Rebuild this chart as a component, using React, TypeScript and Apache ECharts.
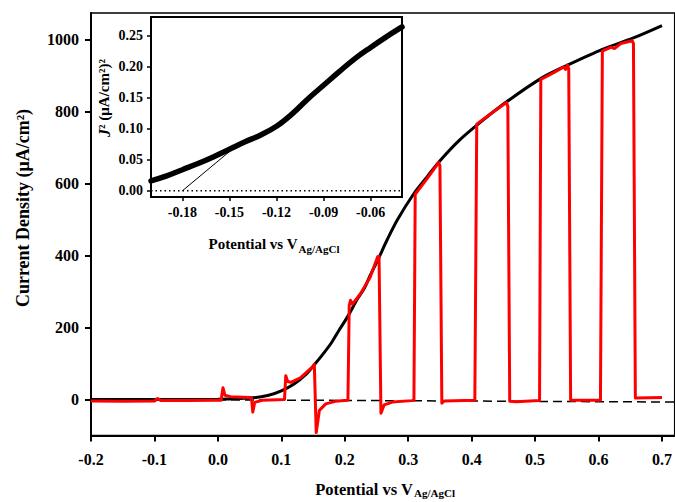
import React, { useEffect, useRef } from "react";
import * as echarts from "echarts";

// ---- main plot: tick labels ----
const mainXTicks = [-0.2, -0.1, 0.0, 0.1, 0.2, 0.3, 0.4, 0.5, 0.6, 0.7];
const mainYTicks = [0, 200, 400, 600, 800, 1000];

// ---- main plot: continuous illuminated LSV (black) ----
const lsvPotential = [-0.2, -0.1, 0.0, 0.05, 0.08, 0.1, 0.12, 0.14, 0.153, 0.165, 0.179, 0.19, 0.205, 0.22, 0.231, 0.24, 0.252, 0.267, 0.283, 0.309, 0.33, 0.348, 0.38, 0.413, 0.455, 0.512, 0.551, 0.606, 0.654, 0.7];
const lsvCurrent = [0, 0, 1, 4, 12, 24, 43, 72, 99, 125, 158, 190, 232, 280, 310, 345, 388, 445, 500, 573, 620, 660, 720, 770, 828, 896, 930, 974, 1005, 1040];

// ---- main plot: chopped-light LSV (red) ----
const chopPotential = [-0.2, -0.15, -0.1, -0.095, -0.09, -0.05, 0.0, 0.005, 0.008, 0.011, 0.02, 0.05, 0.053, 0.055, 0.058, 0.07, 0.105, 0.107, 0.11, 0.115, 0.13, 0.15, 0.152, 0.155, 0.16, 0.17, 0.185, 0.205, 0.207, 0.209, 0.212, 0.225, 0.24, 0.252, 0.254, 0.257, 0.262, 0.275, 0.305, 0.309, 0.311, 0.33, 0.348, 0.35, 0.353, 0.357, 0.405, 0.408, 0.43, 0.455, 0.457, 0.46, 0.47, 0.507, 0.509, 0.53, 0.545, 0.548, 0.551, 0.553, 0.556, 0.603, 0.606, 0.62, 0.625, 0.635, 0.653, 0.655, 0.658, 0.7];
const chopCurrent = [-4, -5, -4, 3, -3, -3, -2, -2, 33, 12, 8, 6, 4, -35, -8, -2, 0, 66, 50, 48, 60, 92, 98, -92, -30, -12, -5, -2, 262, 276, 265, 295, 340, 398, 398, -38, -15, -7, -3, -2, 571, 615, 659, 650, -10, -4, -2, 766, 795, 826, 815, -5, -6, -3, 890, 910, 925, 918, 930, 920, -2, -2, 969, 980, 976, 990, 998, 990, 4, 6];

// ---- main plot: dark current (dashed) ----
const darkPotential = [-0.2, 0.72];
const darkCurrent = [1, -7];

// ---- inset: tick labels ----
const insetXTicks = [-0.18, -0.15, -0.12, -0.09, -0.06];
const insetYTicks = [0.0, 0.05, 0.1, 0.15, 0.2, 0.25];

// ---- inset: J^2 vs potential ----
const insetPotential = [-0.2, -0.19, -0.18, -0.17, -0.16, -0.15, -0.14, -0.13, -0.12, -0.11, -0.1, -0.09, -0.08, -0.07, -0.06, -0.05, -0.04];
const insetJ2 = [0.016, 0.024, 0.034, 0.044, 0.055, 0.067, 0.079, 0.09, 0.104, 0.124, 0.148, 0.17, 0.192, 0.213, 0.231, 0.248, 0.264];

// ---- inset: tangent (flat-band extrapolation) ----
const tangentPotential = [-0.18, -0.1455];
const tangentJ2 = [0, 0.0726];

// ---- inset: zero line ----
const zeroPotential = [-0.2, -0.04];
const zeroJ2 = [0, 0];

const zip = (xs: number[], ys: number[]) => xs.map((x, i) => [x, ys[i]]);

const FONT = "'Liberation Serif', 'Times New Roman', serif";

export default function App() {
  const ref = useRef<HTMLDivElement>(null);
  useEffect(() => {
    const chart = echarts.init(ref.current!, null, { renderer: "svg" });
    const labelStyle = { color: "#000", fontFamily: FONT, fontWeight: "bold" as const };
    chart.setOption({
      animation: false,
      backgroundColor: "#fff",
      grid: [
        { left: 91, top: 13, right: -5, bottom: 66.5, show: true, borderColor: "#000", borderWidth: 1.5, backgroundColor: "transparent" },
        { left: 151, top: 17, width: 251, height: 180, show: true, borderColor: "#000", borderWidth: 2, backgroundColor: "#fff", z: 5 },
      ],
      xAxis: [
        {
          type: "value", gridIndex: 0, min: -0.2, max: 0.72,
          axisLine: { show: true, onZero: false, lineStyle: { color: "#000", width: 2 } },
          axisTick: { show: true, customValues: mainXTicks, length: 6, lineStyle: { color: "#000", width: 2 } },
          axisLabel: { customValues: mainXTicks, formatter: (v: number) => v.toFixed(1), fontSize: 16, margin: 16, ...labelStyle },
          splitLine: { show: false },
        },
        {
          type: "value", gridIndex: 1, min: -0.2, max: -0.04,
          axisLine: { show: true, onZero: false, lineStyle: { color: "#000", width: 2 } },
          axisTick: { show: true, customValues: insetXTicks, length: 4, lineStyle: { color: "#000", width: 1.5 } },
          axisLabel: { customValues: insetXTicks, formatter: (v: number) => v.toFixed(2), fontSize: 14, margin: 8, ...labelStyle },
          splitLine: { show: false },
        },
      ],
      yAxis: [
        {
          type: "value", gridIndex: 0, min: -100, max: 1075,
          axisLine: { show: true, onZero: false, lineStyle: { color: "#000", width: 2 } },
          axisTick: { show: true, customValues: mainYTicks, length: 6, lineStyle: { color: "#000", width: 2 } },
          axisLabel: { customValues: mainYTicks, formatter: (v: number) => String(v), fontSize: 16, margin: 12, ...labelStyle },
          splitLine: { show: false },
        },
        {
          type: "value", gridIndex: 1, min: -0.01, max: 0.28,
          axisLine: { show: true, onZero: false, lineStyle: { color: "#000", width: 2 } },
          axisTick: { show: true, customValues: insetYTicks, length: 4, lineStyle: { color: "#000", width: 1.5 } },
          axisLabel: { customValues: insetYTicks, formatter: (v: number) => v.toFixed(2), fontSize: 14, margin: 8, ...labelStyle },
          splitLine: { show: false },
        },
      ],
      series: [
        {
          type: "line", xAxisIndex: 0, yAxisIndex: 0, showSymbol: false, silent: true,
          data: zip(darkPotential, darkCurrent),
          lineStyle: { color: "#000", width: 1.5, type: [9, 5] },
        },
        {
          type: "line", xAxisIndex: 0, yAxisIndex: 0, showSymbol: false, silent: true, smooth: 0.3,
          data: zip(lsvPotential, lsvCurrent),
          lineStyle: { color: "#000", width: 3 },
        },
        {
          type: "line", xAxisIndex: 0, yAxisIndex: 0, showSymbol: false, silent: true,
          data: zip(chopPotential, chopCurrent),
          lineStyle: { color: "#ff0000", width: 3, join: "round" },
        },
        {
          type: "line", xAxisIndex: 1, yAxisIndex: 1, showSymbol: false, silent: true, z: 6,
          data: zip(zeroPotential, zeroJ2),
          lineStyle: { color: "#000", width: 1.5, type: [1.5, 3] },
        },
        {
          type: "line", xAxisIndex: 1, yAxisIndex: 1, showSymbol: false, silent: true, z: 6,
          data: zip(tangentPotential, tangentJ2),
          lineStyle: { color: "#000", width: 1 },
        },
        {
          type: "line", xAxisIndex: 1, yAxisIndex: 1, showSymbol: false, silent: true, smooth: 0.4, z: 6,
          data: zip(insetPotential, insetJ2),
          lineStyle: { color: "#000", width: 5.5, cap: "round" },
        },
      ],
      graphic: [
        {
          type: "text", x: 385, y: 489, z: 10,
          style: {
            text: "{a|Potential vs V}{b|Ag/AgCl}", align: "center", verticalAlign: "middle",
            rich: {
              a: { fontSize: 16.5, fontFamily: FONT, fontWeight: "bold", fill: "#000" },
              b: { fontSize: 11, fontFamily: FONT, fontWeight: "bold", fill: "#000", padding: [8, 0, 0, 1] },
            },
          },
        },
        {
          type: "text", x: 23, y: 208, rotation: Math.PI / 2, z: 10,
          style: { text: "Current Density (μA/cm²)", align: "center", verticalAlign: "middle", fontSize: 18, fontFamily: FONT, fontWeight: "bold", fill: "#000" },
        },
        {
          type: "text", x: 274, y: 244, z: 10,
          style: {
            text: "{a|Potential vs V}{b|Ag/AgCl}", align: "center", verticalAlign: "middle",
            rich: {
              a: { fontSize: 15, fontFamily: FONT, fontWeight: "bold", fill: "#000" },
              b: { fontSize: 11, fontFamily: FONT, fontWeight: "bold", fill: "#000", padding: [9, 0, 0, 1] },
            },
          },
        },
        {
          type: "text", x: 104, y: 98, rotation: Math.PI / 2, z: 10,
          style: {
            text: "{i|J}{n|² (μA/cm²)²}", align: "center", verticalAlign: "middle",
            rich: {
              i: { fontSize: 16, fontFamily: FONT, fontWeight: "bold", fontStyle: "italic", fill: "#000" },
              n: { fontSize: 15, fontFamily: FONT, fontWeight: "bold", fill: "#000" },
            },
          },
        },
      ],
    });
    return () => chart.dispose();
  }, []);
  return <div ref={ref} style={{ position: "absolute", left: 0, top: 0, width: 675, height: 502, background: "#fff" }} />;
}
